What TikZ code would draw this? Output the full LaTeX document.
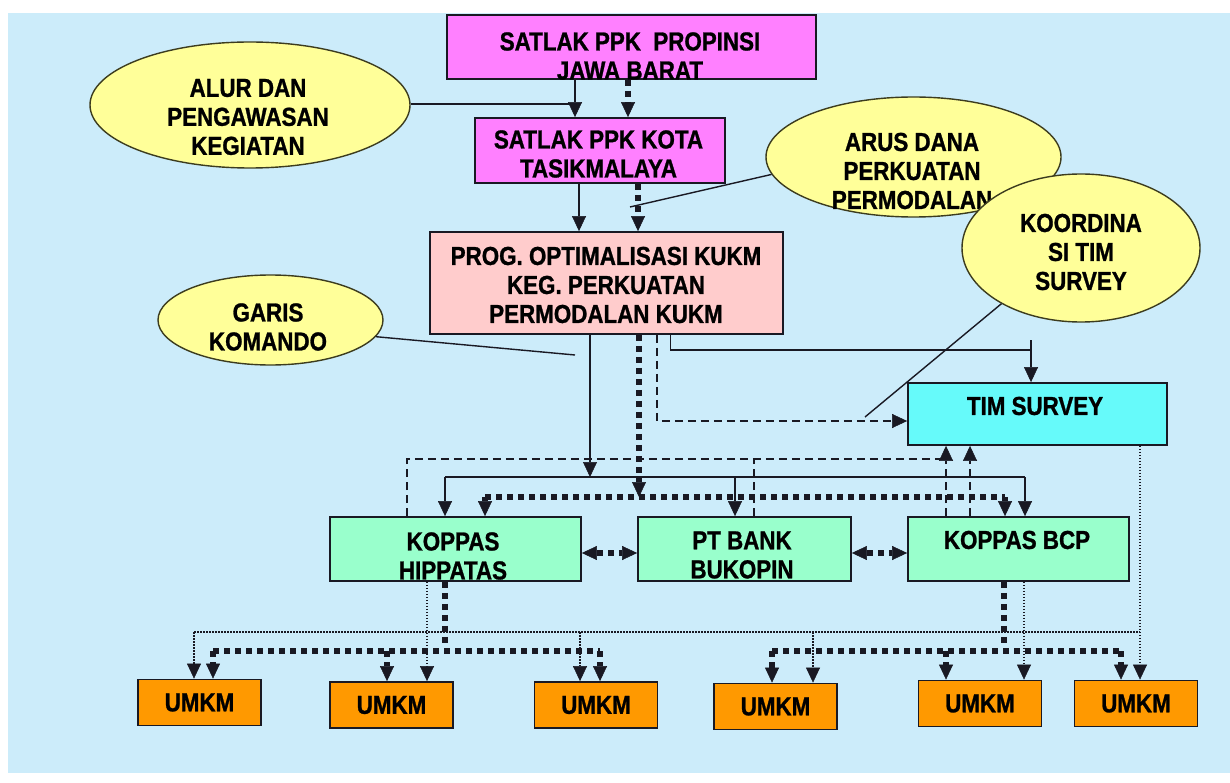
\documentclass[tikz,border=0pt]{standalone}
\usepackage{fontspec}
\newfontfamily\lblfont[FakeStretch=0.86,BoldFeatures={FakeBold=1}]{Liberation Sans}
\usetikzlibrary{arrows.meta,shapes.geometric,calc}
\definecolor{bgblue}{RGB}{204,236,250}
\definecolor{magbox}{RGB}{255,128,255}
\definecolor{pinkbox}{RGB}{255,204,204}
\definecolor{cyanbox}{RGB}{102,250,250}
\definecolor{greenbox}{RGB}{153,255,204}
\definecolor{orangebox}{RGB}{255,153,0}
\definecolor{ovalfill}{RGB}{255,255,153}
\definecolor{ovalline}{RGB}{60,60,30}
\definecolor{linecol}{RGB}{25,25,35}
\begin{document}
\begin{tikzpicture}[x=1pt,y=-1pt,
 box/.style={rectangle, draw=linecol, line width=1.8pt, inner sep=0pt},
 oval/.style={ellipse, draw=ovalline, line width=1.4pt, fill=ovalfill, inner sep=0pt},
 txt/.style={font=\lblfont\bfseries\fontsize{26}{29}\selectfont, align=center, inner sep=0pt, text=black},
 umkm/.style={box, txt, fill=orangebox, minimum width=123pt, minimum height=46pt},
 conn/.style={draw=linecol, line width=1.8pt},
 pointer/.style={draw=linecol, line width=1.4pt},
 fatdot/.style={draw=linecol, line width=6pt, dash pattern=on 6pt off 5pt},
 dashln/.style={draw=linecol, line width=1.6pt, dash pattern=on 8pt off 5pt},
 thindot/.style={draw=linecol, line width=1.2pt, dash pattern=on 1.5pt off 1.5pt},
 endtip/.style={-{Triangle[width=14pt,length=15pt,line width=0.5pt]}},
 bothtips/.style={{Triangle[width=14pt,length=15pt,line width=0.5pt]}-{Triangle[width=14pt,length=15pt,line width=0.5pt]}}
]
\useasboundingbox (0,0) rectangle (1230,783);
\fill[white] (0,0) rectangle (1230,783);
\fill[bgblue] (8,13) rectangle (1230,773);

% ellipses
\node[oval, minimum width=320pt, minimum height=126pt] (alur) at (250,105) {};
\node[txt] (alurt) at (248,117) {ALUR DAN\\PENGAWASAN\\KEGIATAN};
\node[oval, minimum width=225pt, minimum height=90pt] (garis) at (270.5,320) {};
\node[txt] (garist) at (268,327) {GARIS\\KOMANDO};
\node[oval, minimum width=295pt, minimum height=120pt] (arus) at (913.5,157) {};
\node[txt] (arust) at (912,171) {ARUS DANA\\PERKUATAN\\PERMODALAN};
\node[oval, minimum width=238pt, minimum height=148pt] (koord) at (1081,248) {};
\node[txt] (koordt) at (1081,252) {KOORDINA\\SI TIM\\SURVEY};

% boxes
\node[box, fill=magbox, minimum width=369pt, minimum height=64pt] (prov) at (631.5,47) {};
\node[txt] (provt) at (630,56) {SATLAK PPK\ \ PROPINSI\\JAWA BARAT};
\node[box, fill=magbox, minimum width=250pt, minimum height=65pt] (kota) at (600,150.5) {};
\node[txt] (kotat) at (598.5,154) {SATLAK PPK KOTA\\TASIKMALAYA};
\node[box, fill=pinkbox, minimum width=353pt, minimum height=102pt] (prog) at (606.5,283) {};
\node[txt] (progt) at (606,285) {PROG. OPTIMALISASI KUKM\\KEG. PERKUATAN\\PERMODALAN KUKM};
\node[box, fill=cyanbox, minimum width=259pt, minimum height=62pt] (tim) at (1037.5,414) {};
\node[txt] (timt) at (1035,406) {TIM SURVEY};
\node[box, fill=greenbox, minimum width=251pt, minimum height=64pt] (hip) at (455.5,549) {};
\node[txt] (hipt) at (453,556) {KOPPAS\\HIPPATAS};
\node[box, fill=greenbox, minimum width=213pt, minimum height=64pt] (bank) at (744.5,549) {};
\node[txt] (bankt) at (742,555) {PT BANK\\BUKOPIN};
\node[box, fill=greenbox, minimum width=221pt, minimum height=64pt] (bcp) at (1018.5,549) {};
\node[txt] (bcpt) at (1017,540) {KOPPAS BCP};

\node[umkm] (u1) at (199.5,702.5) {UMKM};
\node[umkm] (u2) at (391.5,705) {UMKM};
\node[umkm] (u3) at (596,705) {UMKM};
\node[umkm] (u4) at (775.5,706.5) {UMKM};
\node[umkm] (u5) at (980,703.5) {UMKM};
\node[umkm] (u6) at (1136,703.5) {UMKM};

% top connectors
\coordinate (ja) at (575,104);
\draw[conn] (alur.east |- ja) -- (ja);
\draw[conn,endtip] ([xshift=-56.5pt]prov.south) -- ([xshift=-25pt]kota.north);
\draw[fatdot,endtip] ([xshift=-3.5pt]prov.south) -- ([xshift=28pt]kota.north);
\draw[conn,endtip] ([xshift=-21pt]kota.south) -- ([xshift=-27.5pt]prog.north);
\draw[fatdot,endtip] ([xshift=38pt]kota.south) -- ([xshift=31.5pt]prog.north);
\coordinate (jb) at (630,207);
\draw[pointer] (arus.187) -- (jb);

% from PROG: command line
\coordinate (jc) at (590,477);
\draw[conn,endtip] ([xshift=-16.5pt]prog.south) -- (jc);
\coordinate (bl) at (445,477);
\coordinate (bm) at (735,477);
\coordinate (br) at (1025,477);
\draw[conn] (bl) -- (br);
\draw[conn,endtip] (bl) -- (bl |- hip.north);
\draw[conn,endtip] (bm) -- (bm |- bank.north);
\draw[conn,endtip] (br) -- (br |- bcp.north);

% from PROG: funds
\coordinate (jd) at (639,497);
\draw[fatdot,endtip] ([xshift=32.5pt]prog.south) -- (jd);
\coordinate (dl) at (485,497);
\coordinate (dr) at (1005,497);
\draw[fatdot] (dl) -- (dr);
\draw[fatdot,endtip] (dl) -- (dl |- hip.north);
\draw[fatdot,endtip] (dr) -- (dr |- bcp.north);

% from PROG: to TIM SURVEY
\coordinate (je) at (1031,350);
\draw[conn] ([xshift=64pt]prog.south) |- (je);
\coordinate (je0) at (1031,340);
\draw[conn,endtip] (je0) -- (je0 |- tim.north);
\draw[dashln,endtip] ([xshift=50.5pt]prog.south) |- ([yshift=-7pt]tim.west);

% pointers
\coordinate (jf) at (865,417);
\draw[pointer] (koord.215) -- (jf);
\coordinate (jg) at (575,355);
\draw[pointer] (garis.351) -- (jg);

% dashed reports to TIM SURVEY
\coordinate (kb) at (946,459);
\draw[dashln] ([xshift=-48.5pt]hip.north) |- (kb);
\coordinate (k2) at ([xshift=9.5pt]bank.north);
\draw[dashln] (k2) -- (k2 |- kb);
\coordinate (t1) at ([xshift=-72.5pt]bcp.north);
\draw[dashln,endtip] (t1) -- (t1 |- tim.south);
\coordinate (t3) at ([xshift=-48.5pt]bcp.north);
\draw[dashln,endtip] (t3) -- (t3 |- tim.south);

% bidirectional
\draw[fatdot,bothtips] ([yshift=-4pt]hip.east) -- ([yshift=-4pt]bank.west);
\draw[fatdot,bothtips] ([yshift=-4pt]bank.east) -- ([yshift=-4pt]bcp.west);

% bottom: HIPPATAS
\coordinate (h1) at ([xshift=-10.5pt]hip.south);
\coordinate (ha) at (445,645);
\draw[fatdot] (h1) -- (ha);
\coordinate (ua) at (213,651);
\coordinate (ub) at (387,651);
\coordinate (uc) at (600,651);
\draw[fatdot] (ua) -- (uc);
\draw[fatdot,endtip] (ua) -- (ua |- u1.north);
\draw[fatdot,endtip] (ub) -- (ub |- u2.north);
\draw[fatdot,endtip] (uc) -- (uc |- u3.north);
\coordinate (h2) at ([xshift=-28.5pt]hip.south);
\draw[thindot,endtip] (h2) -- (h2 |- u2.north);

% bottom: TIM SURVEY thin dotted
\coordinate (t2) at ([xshift=102.5pt]tim.south);
\draw[thindot,endtip] (t2) -- (t2 |- u6.north);
\coordinate (va) at (194,632);
\coordinate (vb) at (1140,632);
\coordinate (vc) at (580,632);
\coordinate (vd) at (813,632);
\draw[thindot] (va) -- (vb);
\draw[thindot,endtip] (va) -- (va |- u1.north);
\draw[thindot,endtip] (vc) -- (vc |- u3.north);
\draw[thindot,endtip] (vd) -- (vd |- u4.north);

% bottom: KOPPAS BCP
\coordinate (b1) at ([xshift=-14.5pt]bcp.south);
\coordinate (bb) at (1004,645);
\draw[fatdot] (b1) -- (bb);
\coordinate (wa) at (772,651);
\coordinate (wb) at (946,651);
\coordinate (wc) at (1121,651);
\draw[fatdot] (wa) -- (wc);
\draw[fatdot,endtip] (wa) -- (wa |- u4.north);
\draw[fatdot,endtip] (wb) -- (wb |- u5.north);
\draw[fatdot,endtip] (wc) -- (wc |- u6.north);
\coordinate (b2) at ([xshift=5.5pt]bcp.south);
\draw[thindot,endtip] (b2) -- (b2 |- u5.north);
\end{tikzpicture}
\end{document}
